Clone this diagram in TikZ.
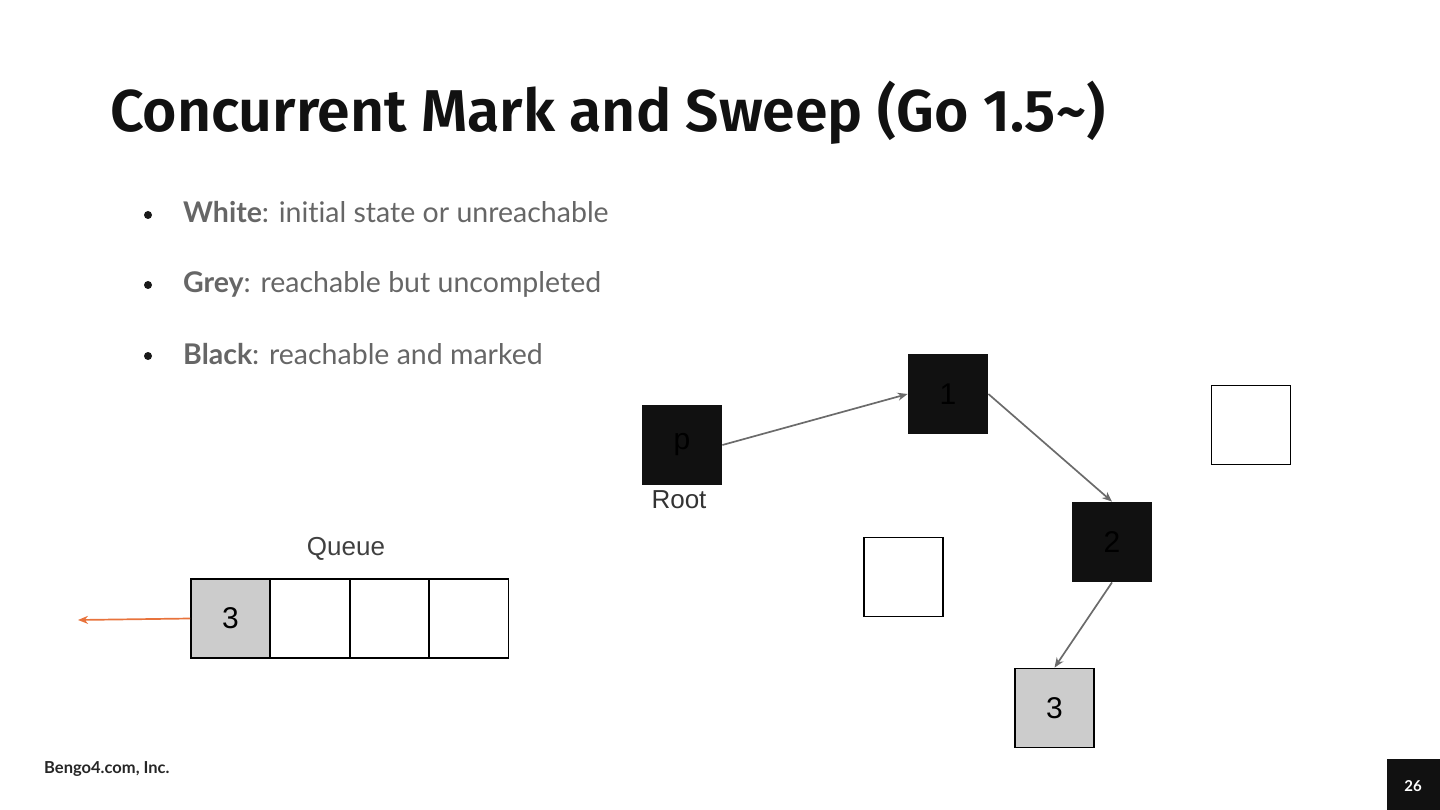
\documentclass[tikz,border=0pt]{standalone}
\usepackage{fontspec}
\setmainfont{Lato}[Ligatures=NoCommon]
\newfontfamily\titlefont{Fira Sans SemiBold}
\newfontfamily\boxfont{Liberation Sans}
\usetikzlibrary{arrows.meta}
\definecolor{textgrey}{HTML}{666666}
\definecolor{linegrey}{HTML}{6B6B6B}
\definecolor{cellgrey}{HTML}{CCCCCC}
\definecolor{nearblack}{HTML}{111111}
\definecolor{popcolor}{HTML}{E8733C}

\begin{document}
\begin{tikzpicture}[x=1pt,y=-1pt,
  obj/.style={draw=black, line width=1.8pt, minimum size=79pt, inner sep=0pt,
    font=\boxfont\fontsize{30}{34}\selectfont},
  blackobj/.style={obj, draw=nearblack, fill=nearblack, text=black},
  greyobj/.style={obj, fill=cellgrey},
  whiteobj/.style={obj, fill=white},
  ref/.style={draw=linegrey, line width=1.7pt, -{Stealth[length=10pt,width=8pt]}},
  bullet/.style={anchor=base west, inner sep=0pt, text=textgrey,
    font=\fontsize{28.5}{33}\selectfont}]
  \useasboundingbox (0,0) rectangle (1440,810);

  % title and bullets
  \node[anchor=base west, inner sep=0pt, font=\titlefont\fontsize{59}{70}\selectfont,
    text=nearblack] (title) at (110,132) {Concurrent Mark and Sweep (Go 1.5\textasciitilde)};
  \fill[black!90] (148,215) circle (4pt);
  \node[bullet] (white) at (183,223) {\textbf{White}: initial state or unreachable};
  \fill[black!90] (148,285) circle (4pt);
  \node[bullet] (grey) at (183,293) {\textbf{Grey}: reachable but uncompleted};
  \fill[black!90] (148,356) circle (4pt);
  \node[bullet] (black) at (183,364) {\textbf{Black}: reachable and marked};

  % heap objects
  \node[blackobj] (p) at (682,445) {p};
  \node[inner sep=0pt, font=\boxfont\fontsize{26}{30}\selectfont, text=black!80] (root) at (679,500) {Root};
  \node[blackobj] (o1) at (948,394) {1};
  \node[blackobj] (o2) at (1112,542) {2};
  \node[greyobj] (o3) at (1054.5,708) {3};
  \node[whiteobj] (w1) at (1251,425) {};
  \node[whiteobj] (w2) at (903.5,577) {};

  \draw[ref] (p.east) -- (o1.west);
  \draw[ref] (o1.east) -- (o2.north);
  \draw[ref] (o2.south) -- (o3.north);

  % queue
  \node[inner sep=0pt, font=\boxfont\fontsize{26}{30}\selectfont, text=black!75] (qlabel) at (346,549) {Queue};
  \node[greyobj] (q1) at (230.5,618.5) {3};
  \node[whiteobj] (q2) at (310,618.5) {};
  \node[whiteobj] (q3) at (389.5,618.5) {};
  \node[whiteobj] (q4) at (469,618.5) {};
  \coordinate (out) at (78,620);
  \draw[draw=popcolor, line width=1.7pt, -{Stealth[length=10pt,width=8pt]}] (q1.west) -- (out);

  % footer
  \node[anchor=base west, inner sep=0pt, font=\bfseries\fontsize{16.5}{19}\selectfont, text=black!85] (company) at (44,773) {Bengo4.com, Inc.};
  \fill[nearblack] (1387,759) rectangle (1440,810);
  \node[inner sep=0pt, font=\bfseries\fontsize{15}{18}\selectfont, text=white] (page) at (1413,786) {26};
\end{tikzpicture}
\end{document}
